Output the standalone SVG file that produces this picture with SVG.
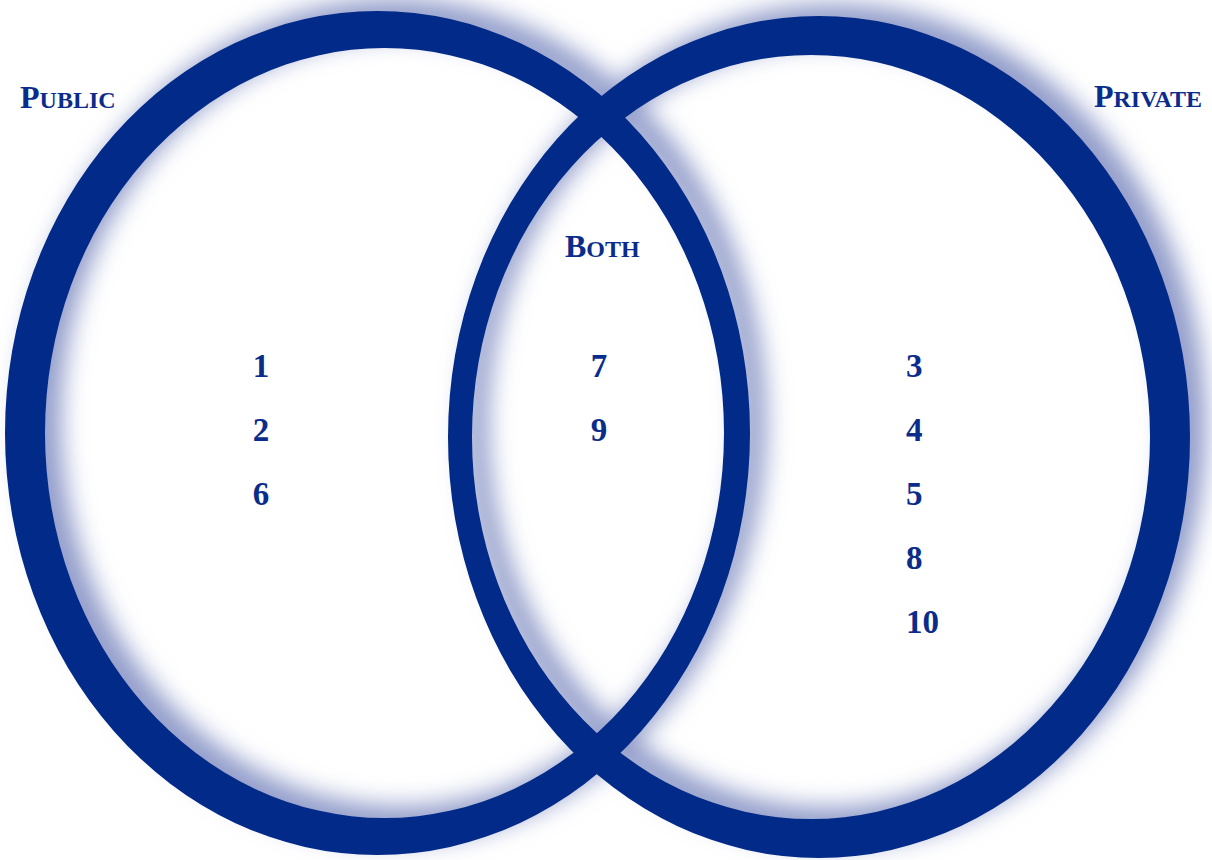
<svg xmlns="http://www.w3.org/2000/svg" width="1212" height="860" viewBox="0 0 1212 860">
  <defs>
    <filter id="shadow" x="-8%" y="-8%" width="116%" height="116%" color-interpolation-filters="sRGB">
      <feOffset in="SourceAlpha" dx="16" dy="-12" result="off"/>
      <feGaussianBlur in="off" stdDeviation="12" result="blur"/>
      <feFlood flood-color="#7482bc" flood-opacity="0.8"/>
      <feComposite in2="blur" operator="in" result="shade"/>
      <feMerge>
        <feMergeNode in="shade"/>
        <feMergeNode in="SourceGraphic"/>
      </feMerge>
    </filter>
  </defs>
  <style>
    .ring { fill: #022a88; fill-rule: evenodd; }
    .lbl { font-family: "Liberation Serif", "Times New Roman", serif; font-weight: bold; fill: #0a2d8c; }
    .big { font-size: 32px; }
    .sm { font-size: 24px; }
    .num { font-family: "Liberation Serif", "Times New Roman", serif; font-weight: bold; font-size: 33px; fill: #0a2d8c; }
  </style>
  <rect width="1212" height="860" fill="#ffffff"/>
  <g id="rings" filter="url(#shadow)">
    <g id="public-set">
      <path class="ring" d="M 5,433 A 372.5,422 0 1,0 750,433 A 372.5,422 0 1,0 5,433 Z M 45,433 A 339.5,385 0 1,0 724,433 A 339.5,385 0 1,0 45,433 Z"/>
    </g>
    <g id="private-set">
      <path class="ring" d="M 448,437 A 371,421 0 1,0 1190,437 A 371,421 0 1,0 448,437 Z M 472,437 A 339,382 0 1,0 1150,437 A 339,382 0 1,0 472,437 Z"/>
    </g>
  </g>
  <g id="label-public">
    <text class="lbl" x="20" y="108"><tspan class="big">P</tspan><tspan class="sm">UBLIC</tspan></text>
  </g>
  <g id="label-private">
    <text class="lbl" x="1202" y="107" text-anchor="end"><tspan class="big">P</tspan><tspan class="sm">RIVATE</tspan></text>
  </g>
  <g id="label-both">
    <text class="lbl" x="565" y="257"><tspan class="big">B</tspan><tspan class="sm">OTH</tspan></text>
  </g>
  <g id="public-items">
    <text class="num" x="261" y="377" text-anchor="middle">1</text>
    <text class="num" x="261" y="441" text-anchor="middle">2</text>
    <text class="num" x="261" y="505" text-anchor="middle">6</text>
  </g>
  <g id="both-items">
    <text class="num" x="599" y="377" text-anchor="middle">7</text>
    <text class="num" x="599" y="441" text-anchor="middle">9</text>
  </g>
  <g id="private-items">
    <text class="num" x="906" y="377">3</text>
    <text class="num" x="906" y="441">4</text>
    <text class="num" x="906" y="505">5</text>
    <text class="num" x="906" y="569">8</text>
    <text class="num" x="906" y="633">10</text>
  </g>
</svg>
